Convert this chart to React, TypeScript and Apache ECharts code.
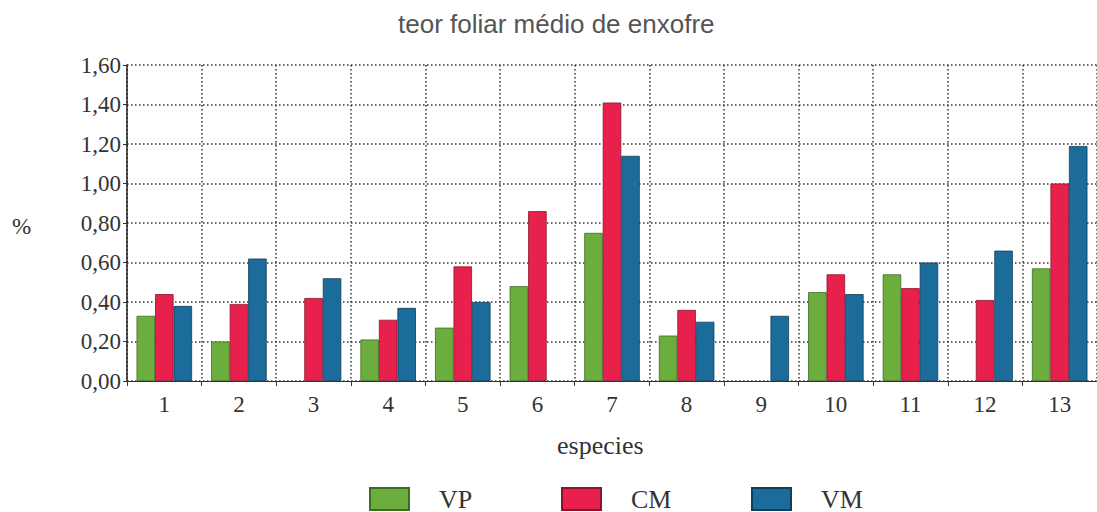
import React, { useEffect, useRef } from "react";
import * as echarts from "echarts";

const categories = ["1", "2", "3", "4", "5", "6", "7", "8", "9", "10", "11", "12", "13"];
const vpValues = [0.33, 0.2, null, 0.21, 0.27, 0.48, 0.75, 0.23, null, 0.45, 0.54, null, 0.57];
const cmValues = [0.44, 0.39, 0.42, 0.31, 0.58, 0.86, 1.41, 0.36, null, 0.54, 0.47, 0.41, 1.0];
const vmValues = [0.38, 0.62, 0.52, 0.37, 0.4, null, 1.14, 0.3, 0.33, 0.44, 0.6, 0.66, 1.19];
const yTicks = { min: 0, max: 1.6, interval: 0.2 };
const titleText = "teor foliar médio de enxofre";
const xName = "especies";
const yName = "%";

const SERIF = "'Liberation Serif', 'DejaVu Serif', serif";
const SANS = "'Liberation Sans', Arial, sans-serif";

export default function App() {
  const ref = useRef<HTMLDivElement>(null);
  useEffect(() => {
    if (!ref.current) return;
    const chart = echarts.init(ref.current, undefined, { renderer: "svg" });
    const dotted = { color: "#333", width: 1.5, type: [1.5, 2.5] as number[] };
    const mkSeries = (name: string, data: (number | null)[], color: string, border: string) => ({
      name,
      type: "bar",
      data,
      barWidth: 18.5,
      barGap: "0%",
      itemStyle: { color, borderColor: border, borderWidth: 0.8 },
    });
    const mkLegend = (name: string, left: number) => ({
      data: [name],
      left,
      top: 486,
      padding: 0,
      orient: "horizontal",
      itemWidth: 39,
      itemHeight: 22,
      icon: "rect",
      selectedMode: false,
      textStyle: {
        fontFamily: SERIF,
        fontSize: 26,
        color: "#333",
        padding: [0, 0, 0, 25],
      },
    });
    chart.setOption({
      animation: false,
      backgroundColor: "#fff",
      title: {
        text: titleText,
        left: 393,
        top: 6,
        textStyle: { fontFamily: SANS, fontSize: 26, fontWeight: "normal", color: "#555" },
      },
      legend: [mkLegend("VP", 369), mkLegend("CM", 561), mkLegend("VM", 751)],
      grid: { left: 127, right: -1, top: 65, bottom: 131, containLabel: false },
      xAxis: {
        type: "category",
        data: categories,
        boundaryGap: true,
        axisLine: { show: true, lineStyle: { color: "#333", width: 1.2 } },
        axisTick: { show: true, length: 5, alignWithLabel: false, lineStyle: { color: "#333" } },
        axisLabel: { fontFamily: SERIF, fontSize: 23, color: "#333", margin: 12 },
        splitLine: { show: true, interval: 0, lineStyle: dotted },
      },
      yAxis: {
        type: "value",
        min: yTicks.min,
        max: yTicks.max,
        interval: yTicks.interval,
        axisLine: { show: true, lineStyle: { color: "#222", width: 1.5 } },
        axisTick: { show: true, length: 4, lineStyle: { color: "#333" } },
        axisLabel: {
          fontFamily: SERIF,
          fontSize: 23,
          color: "#333",
          margin: 6,
          formatter: (v: number) => v.toFixed(2).replace(".", ","),
        },
        splitLine: { show: true, lineStyle: dotted },
      },
      graphic: [
        {
          type: "text",
          left: 12,
          top: 215,
          style: { text: yName, fontFamily: SERIF, fontSize: 23, fill: "#333" },
        },
        {
          type: "text",
          left: 557,
          top: 432,
          style: { text: xName, fontFamily: SERIF, fontSize: 26, fill: "#333" },
        },
      ],
      series: [
        mkSeries("VP", vpValues, "#6cae3e", "#3f6b25"),
        mkSeries("CM", cmValues, "#e8214c", "#8a1430"),
        mkSeries("VM", vmValues, "#1b6c9a", "#0f3f5c"),
      ],
    });
    return () => chart.dispose();
  }, []);
  return (
    <div
      ref={ref}
      style={{ position: "absolute", left: 0, top: 0, width: 1097, height: 512 }}
    />
  );
}
